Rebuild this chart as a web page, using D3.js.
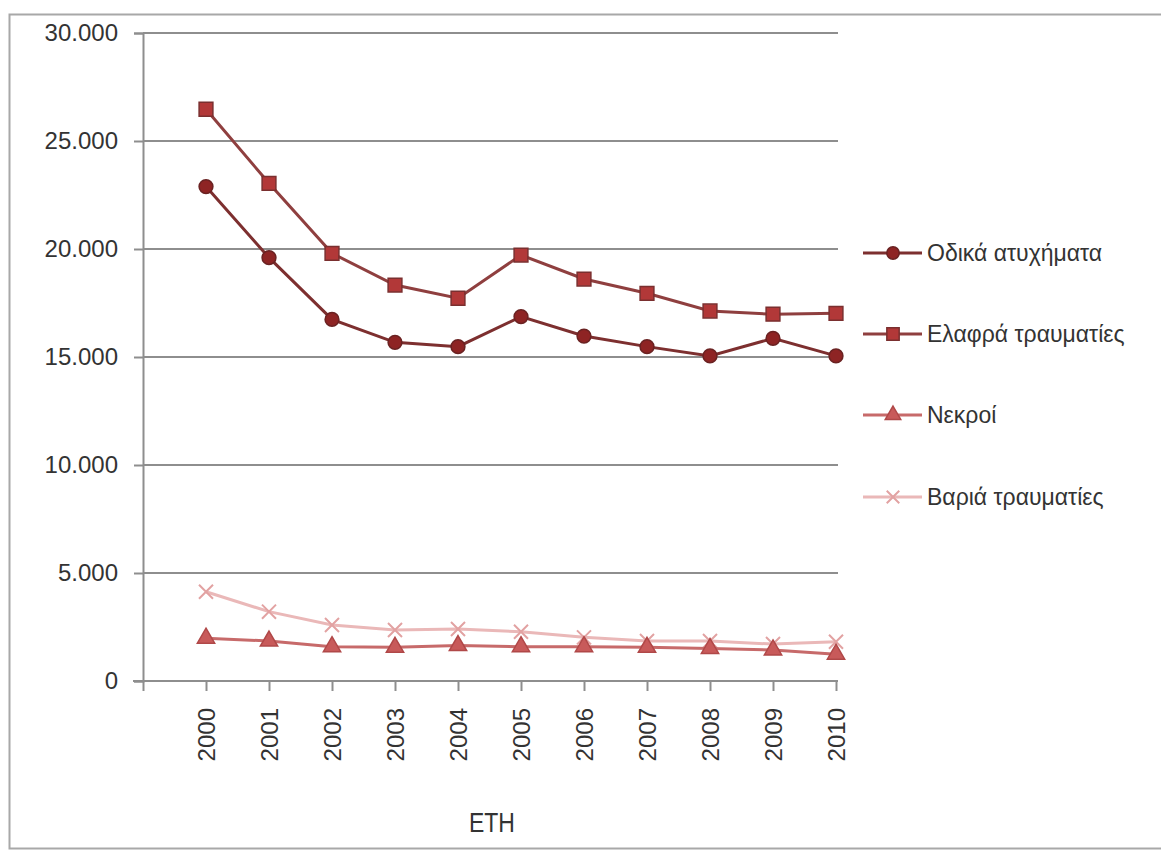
<html>
  <head>
    <meta charset="utf-8">
    <script src="https://d3js.org/d3.v7.min.js"></script>
    <style type="text/css">
      body { margin: 0; background: #fff; }
      svg text { font-family: "Liberation Sans", Arial, sans-serif; fill: #333; }
    </style>
  </head>
  <body>
    <svg width="1161" height="854"></svg>
    <script>
      var years = [2000, 2001, 2002, 2003, 2004, 2005, 2006, 2007, 2008, 2009, 2010];
      var accidents = [22890, 19600, 16740, 15680, 15480, 16870, 15970, 15480, 15050, 15860, 15050];
      var lightInjured = [26470, 23040, 19800, 18330, 17720, 19720, 18610, 17950, 17130, 16980, 17020];
      var deaths = [1980, 1850, 1590, 1560, 1640, 1590, 1590, 1560, 1510, 1440, 1240];
      var seriousInjured = [4130, 3210, 2590, 2360, 2410, 2280, 2020, 1850, 1850, 1710, 1820];
      var seriesNames = ["Οδικά ατυχήματα", "Ελαφρά τραυματίες", "Νεκροί", "Βαριά τραυματίες"];
      var yTicks = [0, 5000, 10000, 15000, 20000, 25000, 30000];
      var xTitle = "ΕΤΗ";

      var series = [
        { name: seriesNames[0], values: accidents, line: "#7d2f2f", fill: "#8e2424", stroke: "#6a2222", symbol: d3.symbolCircle, size: 150 },
        { name: seriesNames[1], values: lightInjured, line: "#8f3f3f", fill: "#b23838", stroke: "#7a2f2f", symbol: d3.symbolSquare, size: 190 },
        { name: seriesNames[2], values: deaths, line: "#c76a6a", fill: "#c85a5a", stroke: "#b04848", symbol: d3.symbolTriangle, size: 130 },
        { name: seriesNames[3], values: seriousInjured, line: "#eab8b8", fill: "none", stroke: "#e2a2a2", symbol: d3.symbolX, size: 130 }
      ];

      var svg = d3.select("svg");

      // outer frame
      svg.append("rect")
        .attr("x", 9.5).attr("y", 14.5)
        .attr("width", 1170).attr("height", 834)
        .attr("fill", "none").attr("stroke", "#a8a8a8").attr("stroke-width", 2);

      var x = d3.scaleLinear().domain([years[0] - 1, years[years.length - 1]]).range([143, 836]);
      var y = d3.scaleLinear().domain([0, 30000]).range([681, 33]);

      var loc = d3.formatLocale({ decimal: ",", thousands: ".", grouping: [3], currency: ["", ""] });
      var fmt = loc.format(",d");

      // gridlines
      svg.append("g").selectAll("line")
        .data(yTicks.slice(1))
        .enter().append("line")
        .attr("x1", 143).attr("x2", 838)
        .attr("y1", function(d) { return y(d); })
        .attr("y2", function(d) { return y(d); })
        .attr("stroke", "#8e8e8e").attr("stroke-width", 2);

      // y axis
      var yAxis = svg.append("g")
        .attr("transform", "translate(143,0)")
        .call(d3.axisLeft(y).tickValues(yTicks).tickSize(9).tickPadding(16).tickFormat(fmt));
      yAxis.select(".domain").attr("stroke", "#8e8e8e").attr("stroke-width", 2);
      yAxis.selectAll(".tick line").attr("stroke", "#8e8e8e").attr("stroke-width", 2);
      yAxis.selectAll(".tick text").style("font-size", "24px").attr("fill", "#333");

      // x axis
      var xAxis = svg.append("g")
        .attr("transform", "translate(0,681)")
        .call(d3.axisBottom(x).tickValues([years[0] - 1].concat(years)).tickSize(10).tickSizeOuter(0)
          .tickFormat(function(d) { return d < years[0] ? "" : d; }));
      xAxis.select(".domain").attr("stroke", "#8e8e8e").attr("stroke-width", 2).attr("d", "M133,0H838");
      xAxis.selectAll(".tick line").attr("stroke", "#8e8e8e").attr("stroke-width", 2);
      xAxis.selectAll(".tick text")
        .style("font-size", "24px")
        .attr("fill", "#333")
        .attr("text-anchor", "end")
        .attr("dy", "0.35em")
        .attr("transform", "translate(0,27) rotate(-90)")
        .attr("x", 0).attr("y", 0);

      svg.append("text")
        .attr("x", 0).attr("y", 0)
        .attr("transform", "translate(492,832) scale(0.85,1)")
        .attr("text-anchor", "middle")
        .style("font-size", "27px")
        .text(xTitle);

      var line = d3.line()
        .x(function(d, i) { return x(years[i]); })
        .y(function(d) { return y(d); });

      // draw lighter series first so dark ones sit on top
      series.slice().reverse().forEach(function(s) {
        svg.append("path")
          .attr("d", line(s.values))
          .attr("fill", "none")
          .attr("stroke", s.line)
          .attr("stroke-width", 3);
        svg.append("g").selectAll("path")
          .data(s.values)
          .enter().append("path")
          .attr("transform", function(d, i) { return "translate(" + x(years[i]) + "," + y(d) + ")"; })
          .attr("d", d3.symbol().type(s.symbol).size(s.size))
          .attr("fill", s.fill)
          .attr("stroke", s.stroke)
          .attr("stroke-width", s.fill === "none" ? 2 : 1.5);
      });

      // legend
      var legendY = [253, 334, 415, 497];
      var legend = svg.append("g").selectAll("g")
        .data(series)
        .enter().append("g")
        .attr("transform", function(d, i) { return "translate(0," + legendY[i] + ")"; });
      legend.append("line")
        .attr("x1", 863).attr("x2", 922)
        .attr("stroke", function(d) { return d.line; })
        .attr("stroke-width", 3);
      legend.append("path")
        .attr("transform", "translate(893,0)")
        .attr("d", function(d) { return d3.symbol().type(d.symbol).size(d.size * 0.8)(); })
        .attr("fill", function(d) { return d.fill; })
        .attr("stroke", function(d) { return d.stroke; })
        .attr("stroke-width", function(d) { return d.fill === "none" ? 2 : 1.5; });
      legend.append("text")
        .attr("x", 927).attr("dy", "0.35em")
        .style("font-size", "23px")
        .text(function(d) { return d.name; });
    </script>
  </body>
</html>
